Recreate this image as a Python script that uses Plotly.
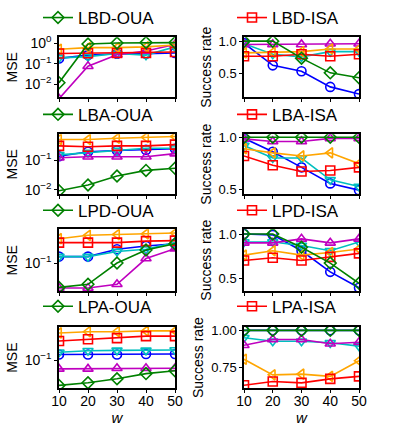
import math
import plotly.graph_objects as go

W = [10, 20, 30, 40, 50]

# ---- data ----
# Row 1: LBD
lbd_oua_green = [0.012, 0.9, 1.0, 1.05, 1.05]
lbd_oua_orange = [0.5, 0.6, 0.6, 0.65, 0.8]
lbd_oua_red = [0.31, 0.32, 0.33, 0.33, 0.37]
lbd_oua_blue = [0.18, 0.26, 0.3, 0.3, 0.33]
lbd_oua_cyan = [0.19, 0.22, 0.31, 0.26, 0.65]
lbd_oua_magenta = [0.002, 0.075, 0.27, 0.41, 0.85]

lbd_isa_green = [1.0, 1.0, 0.74, 0.515, 0.44]
lbd_isa_blue = [0.97, 0.63, 0.54, 0.30, 0.19]
lbd_isa_magenta = [0.95, 0.95, 0.95, 0.96, 0.96]
lbd_isa_orange = [0.82, 0.83, 0.84, 0.88, 0.88]
lbd_isa_cyan = [0.96, 0.80, 0.76, 0.84, 0.84]
lbd_isa_red = [0.77, 0.77, 0.80, 0.77, 0.80]

# Row 2: LBA
lba_oua_green = [0.0093, 0.0146, 0.029, 0.045, 0.053]
lba_oua_magenta = [0.12, 0.13, 0.13, 0.13, 0.165]
lba_oua_blue = [0.135, 0.19, 0.21, 0.22, 0.24]
lba_oua_cyan = [0.15, 0.18, 0.21, 0.25, 0.25]
lba_oua_red = [0.30, 0.28, 0.30, 0.30, 0.33]
lba_oua_orange = [0.49, 0.49, 0.54, 0.58, 0.62]

lba_isa_green = [1.0, 1.0, 1.0, 1.0, 1.0]
lba_isa_magenta = [0.985, 0.96, 0.96, 0.99, 0.99]
lba_isa_blue = [0.99, 0.86, 0.71, 0.555, 0.49]
lba_isa_cyan = [0.92, 0.80, 0.80, 0.59, 0.525]
lba_isa_orange = [0.89, 0.85, 0.82, 0.85, 0.745]
lba_isa_red = [0.82, 0.73, 0.67, 0.68, 0.71]

# Row 3: LPD
lpd_oua_orange = [0.27, 0.31, 0.32, 0.33, 0.34]
lpd_oua_red = [0.23, 0.23, 0.23, 0.245, 0.25]
lpd_oua_blue = [0.13, 0.13, 0.175, 0.2, 0.22]
lpd_oua_cyan = [0.13, 0.13, 0.16, 0.175, 0.23]
lpd_oua_green = [0.037, 0.042, 0.1, 0.17, 0.22]
lpd_oua_magenta = [0.036, 0.036, 0.042, 0.12, 0.18]

lpd_isa_green = [1.0, 1.0, 0.85, 0.67, 0.44]
lpd_isa_blue = [1.0, 0.99, 0.81, 0.57, 0.39]
lpd_isa_magenta = [0.9, 0.9, 0.945, 0.9, 0.945]
lpd_isa_cyan = [0.91, 0.91, 0.87, 0.81, 0.91]
lpd_isa_orange = [0.76, 0.81, 0.76, 0.79, 0.83]
lpd_isa_red = [0.70, 0.73, 0.70, 0.74, 0.78]

# Row 4: LPA
lpa_oua_orange = [0.295, 0.31, 0.31, 0.32, 0.32]
lpa_oua_red = [0.215, 0.23, 0.24, 0.26, 0.26]
lpa_oua_cyan = [0.137, 0.146, 0.148, 0.148, 0.15]
lpa_oua_blue = [0.126, 0.126, 0.126, 0.128, 0.128]
lpa_oua_magenta = [0.071, 0.071, 0.073, 0.073, 0.073]
lpa_oua_green = [0.037, 0.041, 0.048, 0.059, 0.066]

lpa_isa_green = [1.0, 1.0, 1.0, 1.0, 1.0]
lpa_isa_blue = [1.0, 1.0, 1.0, 1.0, 1.0]
lpa_isa_cyan = [0.95, 0.927, 0.927, 0.916, 0.894]
lpa_isa_magenta = [0.90, 0.938, 0.938, 0.91, 0.92]
lpa_isa_orange = [0.805, 0.70, 0.705, 0.69, 0.795]
lpa_isa_red = [0.63, 0.655, 0.646, 0.673, 0.69]

titles_left = ["LBD-OUA", "LBA-OUA", "LPD-OUA", "LPA-OUA"]
titles_right = ["LBD-ISA", "LBA-ISA", "LPD-ISA", "LPA-ISA"]

COL = {
    "green": "#008000", "red": "#FF0000", "blue": "#0000FF",
    "cyan": "#00BFBF", "magenta": "#BF00BF", "orange": "#FFA500",
}
SYM = {
    "green": "diamond-open", "red": "square-open", "blue": "circle-open",
    "cyan": "triangle-down-open", "magenta": "triangle-up-open",
    "orange": "triangle-left-open",
}

left_data = [
    dict(blue=lbd_oua_blue, cyan=lbd_oua_cyan, magenta=lbd_oua_magenta,
         orange=lbd_oua_orange, red=lbd_oua_red, green=lbd_oua_green),
    dict(blue=lba_oua_blue, cyan=lba_oua_cyan, magenta=lba_oua_magenta,
         orange=lba_oua_orange, red=lba_oua_red, green=lba_oua_green),
    dict(blue=lpd_oua_blue, cyan=lpd_oua_cyan, magenta=lpd_oua_magenta,
         orange=lpd_oua_orange, red=lpd_oua_red, green=lpd_oua_green),
    dict(blue=lpa_oua_blue, cyan=lpa_oua_cyan, magenta=lpa_oua_magenta,
         orange=lpa_oua_orange, red=lpa_oua_red, green=lpa_oua_green),
]
right_data = [
    dict(blue=lbd_isa_blue, cyan=lbd_isa_cyan, magenta=lbd_isa_magenta,
         orange=lbd_isa_orange, red=lbd_isa_red, green=lbd_isa_green),
    dict(blue=lba_isa_blue, cyan=lba_isa_cyan, magenta=lba_isa_magenta,
         orange=lba_isa_orange, red=lba_isa_red, green=lba_isa_green),
    dict(blue=lpd_isa_blue, cyan=lpd_isa_cyan, magenta=lpd_isa_magenta,
         orange=lpd_isa_orange, red=lpd_isa_red, green=lpd_isa_green),
    dict(blue=lpa_isa_blue, cyan=lpa_isa_cyan, magenta=lpa_isa_magenta,
         orange=lpa_isa_orange, red=lpa_isa_red, green=lpa_isa_green),
]

left_ranges = [[-2.63, 0.28], [-2.15, -0.13], [-1.5, -0.4], [-1.48, -0.43]]
right_ranges = [[0.14, 1.06], [0.45, 1.03], [0.35, 1.055], [0.61, 1.022]]
right_ticks = [[0.5, 1.0], [0.5, 1.0], [0.5, 1.0], [0.75, 1.0]]
right_ticktext = [["0.5", "1.0"], ["0.5", "1.0"], ["0.5", "1.0"], ["0.75", "1.00"]]

FW, FH = 399, 426
left_x = (59, 175)
right_x = (244, 359)
rows_y = [(25, 87), (125, 187), (223, 287), (324, 387)]
legend_y = [5, 105, 204, 303]

FONT = "Liberation Sans, Arial, sans-serif"

fig = go.Figure()
layout = dict(
    width=FW, height=FH, margin=dict(l=0, r=0, t=0, b=0),
    paper_bgcolor="white", plot_bgcolor="white",
    font=dict(family=FONT, color="black", size=13),
    showlegend=True,
)

def px_x(a, b):
    return [a / FW, b / FW]

def px_y(a, b):
    return [1 - b / FH, 1 - a / FH]

order = ["blue", "cyan", "magenta", "orange", "red", "green"]
idx = 0
for r in range(4):
    for c in range(2):
        idx += 1
        xa = "x" if idx == 1 else f"x{idx}"
        ya = "y" if idx == 1 else f"y{idx}"
        lg = "legend" if idx == 1 else f"legend{idx}"
        data = left_data[r] if c == 0 else right_data[r]
        key_series = "green" if c == 0 else "red"
        name = titles_left[r] if c == 0 else titles_right[r]
        for s in order:
            fig.add_trace(go.Scatter(
                x=W, y=data[s], mode="lines+markers",
                line=dict(color=COL[s], width=1.6),
                marker=dict(symbol=SYM[s], size=9, color=COL[s],
                            line=dict(width=1.6, color=COL[s])),
                name=name if s == key_series else s,
                showlegend=(s == key_series),
                legend=lg, xaxis=xa, yaxis=ya, cliponaxis=True,
            ))
        xkey = "xaxis" if idx == 1 else f"xaxis{idx}"
        ykey = "yaxis" if idx == 1 else f"yaxis{idx}"
        bottom = (r == 3)
        xa_dict = dict(
            domain=px_x(*(left_x if c == 0 else right_x)),
            anchor=ya, range=[10, 50], tickvals=W,
            showticklabels=bottom, ticks="outside", ticklen=3,
            tickcolor="black", showline=True, linecolor="black",
            linewidth=1.5, mirror=True, showgrid=False, zeroline=False,
            tickfont=dict(size=14), automargin=False,
            ticklabelstandoff=-4,
        )
        if bottom:
            xa_dict["title"] = dict(text="<i>w</i>", font=dict(size=15), standoff=0)
        layout[xkey] = xa_dict
        yd = px_y(*rows_y[r])
        if c == 0:
            lo, hi = left_ranges[r]
            tv = [v for v in [1e-2, 1e-1, 1] if lo <= math.log10(v) <= hi]
            tt = ["10<sup>%d</sup>" % round(math.log10(v)) for v in tv]
            tt = [t.replace("-", "\u2212") for t in tt]
            layout[ykey] = dict(
                domain=yd, anchor=xa, type="log", range=[lo, hi],
                tickvals=tv, ticktext=tt, ticks="outside", ticklen=3,
                tickcolor="black", showline=True, linecolor="black",
                linewidth=1.5, mirror=True, showgrid=False, zeroline=False,
                tickfont=dict(size=14), automargin=False,
                title=dict(text="MSE", font=dict(size=14), standoff=4),
            )
        else:
            layout[ykey] = dict(
                domain=yd, anchor=xa, range=right_ranges[r],
                tickvals=right_ticks[r], ticktext=right_ticktext[r],
                ticks="outside", ticklen=3,
                tickcolor="black", showline=True, linecolor="black",
                linewidth=1.5, mirror=True, showgrid=False, zeroline=False,
                tickfont=dict(size=13), automargin=False,
                title=dict(text="Success rate", font=dict(size=14), standoff=4),
            )
        lx = (38 if c == 0 else 232) / FW
        layout[lg] = dict(
            x=lx, y=1 - legend_y[r] / FH, xanchor="left", yanchor="middle",
            bgcolor="rgba(0,0,0,0)", font=dict(size=17, family=FONT),
            borderwidth=0, itemwidth=30,
        )

fig.update_layout(**layout)
fig.write_html(
    "out.html",
    config={"displayModeBar": False},
    post_script="document.body.style.margin='0';document.body.style.overflow='hidden';",
)
